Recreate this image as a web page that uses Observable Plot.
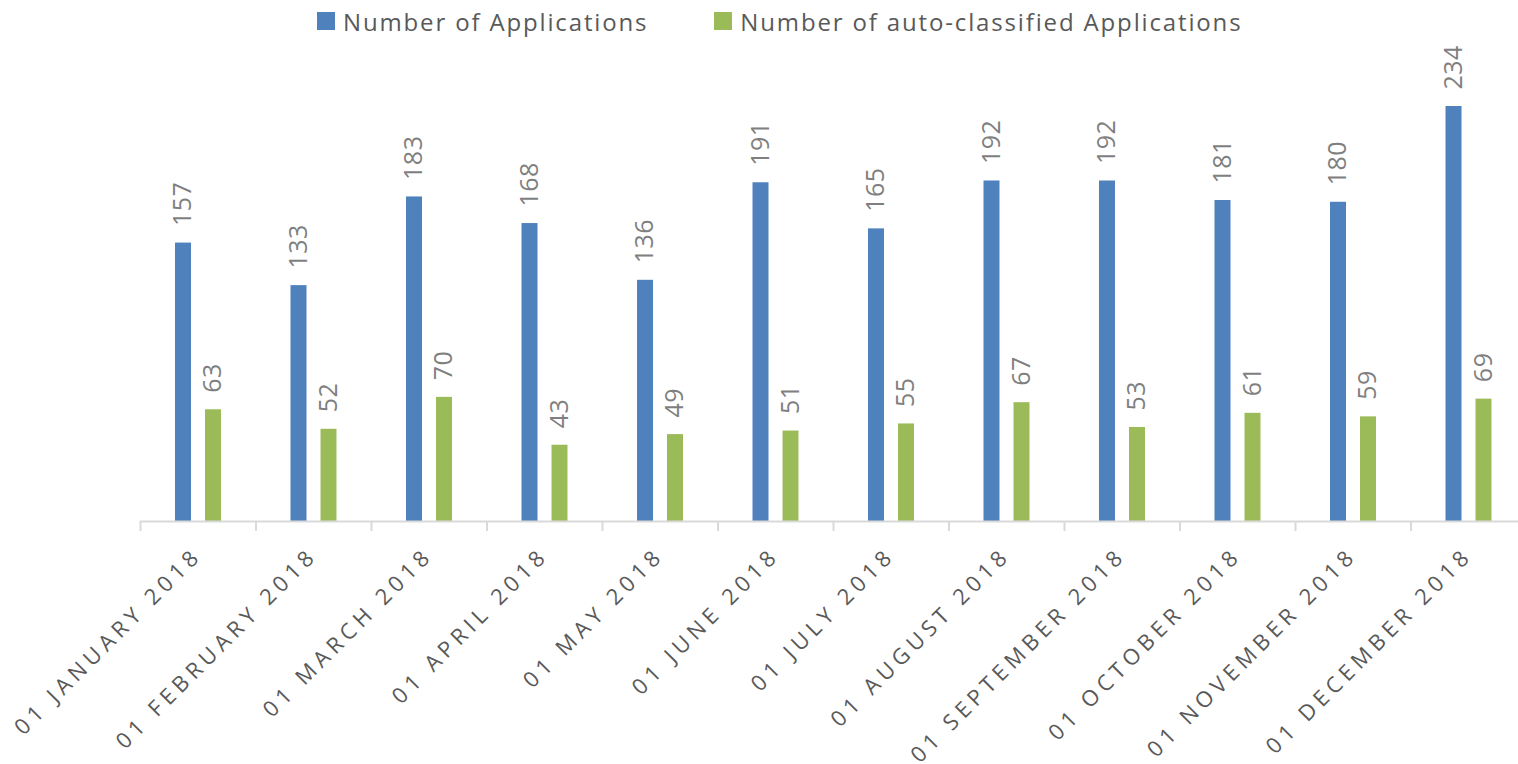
<!DOCTYPE html>
<html><head><meta charset="utf-8">
<script src="https://cdn.jsdelivr.net/npm/d3@7"></script>
<script src="https://cdn.jsdelivr.net/npm/@observablehq/plot@0.6"></script>
<style>
html,body{margin:0;background:#fff;font-family:"Open Sans",sans-serif;overflow:hidden;width:1518px;height:764px;}
#legend{height:42px;display:flex;justify-content:flex-start;align-items:center;gap:66px;font-size:24px;letter-spacing:1.85px;color:#595959;padding-left:317px;box-sizing:border-box;}
#legend div{display:flex;align-items:center;white-space:nowrap;}
#legend span.sw{display:inline-block;width:18px;height:18px;margin-right:8px;}
#chart{width:1526px;height:722px;}
.xlab text{letter-spacing:5px;}
.vlab text{letter-spacing:0.5px;}
</style></head>
<body>
<div id="legend"></div>
<div id="chart"></div>
<script>
const months = ["01 JANUARY 2018","01 FEBRUARY 2018","01 MARCH 2018","01 APRIL 2018","01 MAY 2018","01 JUNE 2018","01 JULY 2018","01 AUGUST 2018","01 SEPTEMBER 2018","01 OCTOBER 2018","01 NOVEMBER 2018","01 DECEMBER 2018"];
const applications = [157,133,183,168,136,191,165,192,192,181,180,234];
const autoClassified = [63,52,70,43,49,51,55,67,53,61,59,69];
const seriesNames = ["Number of Applications","Number of auto-classified Applications"];
const colors = ["#4f81bd","#9bbb59"];

const legend = document.getElementById("legend");
seriesNames.forEach((n,i)=>{
  const d=document.createElement("div");
  d.innerHTML=`<span class="sw" style="background:${colors[i]}"></span>${n}`;
  legend.appendChild(d);
});

const blue = months.map((m,i)=>({month:m,value:applications[i]}));
const green = months.map((m,i)=>({month:m,value:autoClassified[i]}));

const chart = Plot.plot({
  width:1526, height:722,
  marginLeft:140, marginRight:0, marginTop:64, marginBottom:243,
  style:{fontFamily:"Open Sans, sans-serif", background:"#fff", overflow:"visible", maxWidth:"none"},
  x:{domain:months, padding:0, round:false, label:null},
  y:{domain:[0,234], axis:null},
  marks:[
    Plot.barY(blue,{x:"month",y:"value",fill:colors[0],insetLeft:35,insetRight:64.5}),
    Plot.barY(green,{x:"month",y:"value",fill:colors[1],insetLeft:65,insetRight:34.5}),
    Plot.text(blue,{x:"month",y:"value",text:d=>String(d.value),rotate:-90,textAnchor:"start",lineAnchor:"middle",dx:-15,dy:-17,fontSize:25,fill:"#7f7f7f",className:"vlab"}),
    Plot.text(green,{x:"month",y:"value",text:d=>String(d.value),rotate:-90,textAnchor:"start",lineAnchor:"middle",dx:15,dy:-17,fontSize:25,fill:"#7f7f7f",className:"vlab"}),
    Plot.ruleY([0],{stroke:"#d9d9d9",strokeWidth:2}),
    Plot.axisX({tickSize:10,dx:-57.75,tickFormat:()=>"",stroke:"#d9d9d9",strokeWidth:2,label:null}),
    Plot.axisX({tickSize:0,tickPadding:30,tickRotate:-45,fontSize:22,fill:"#595959",className:"xlab",label:null})
  ]
});
chart.style.maxWidth = "none";
document.getElementById("chart").appendChild(chart);
</script>
</body></html>
